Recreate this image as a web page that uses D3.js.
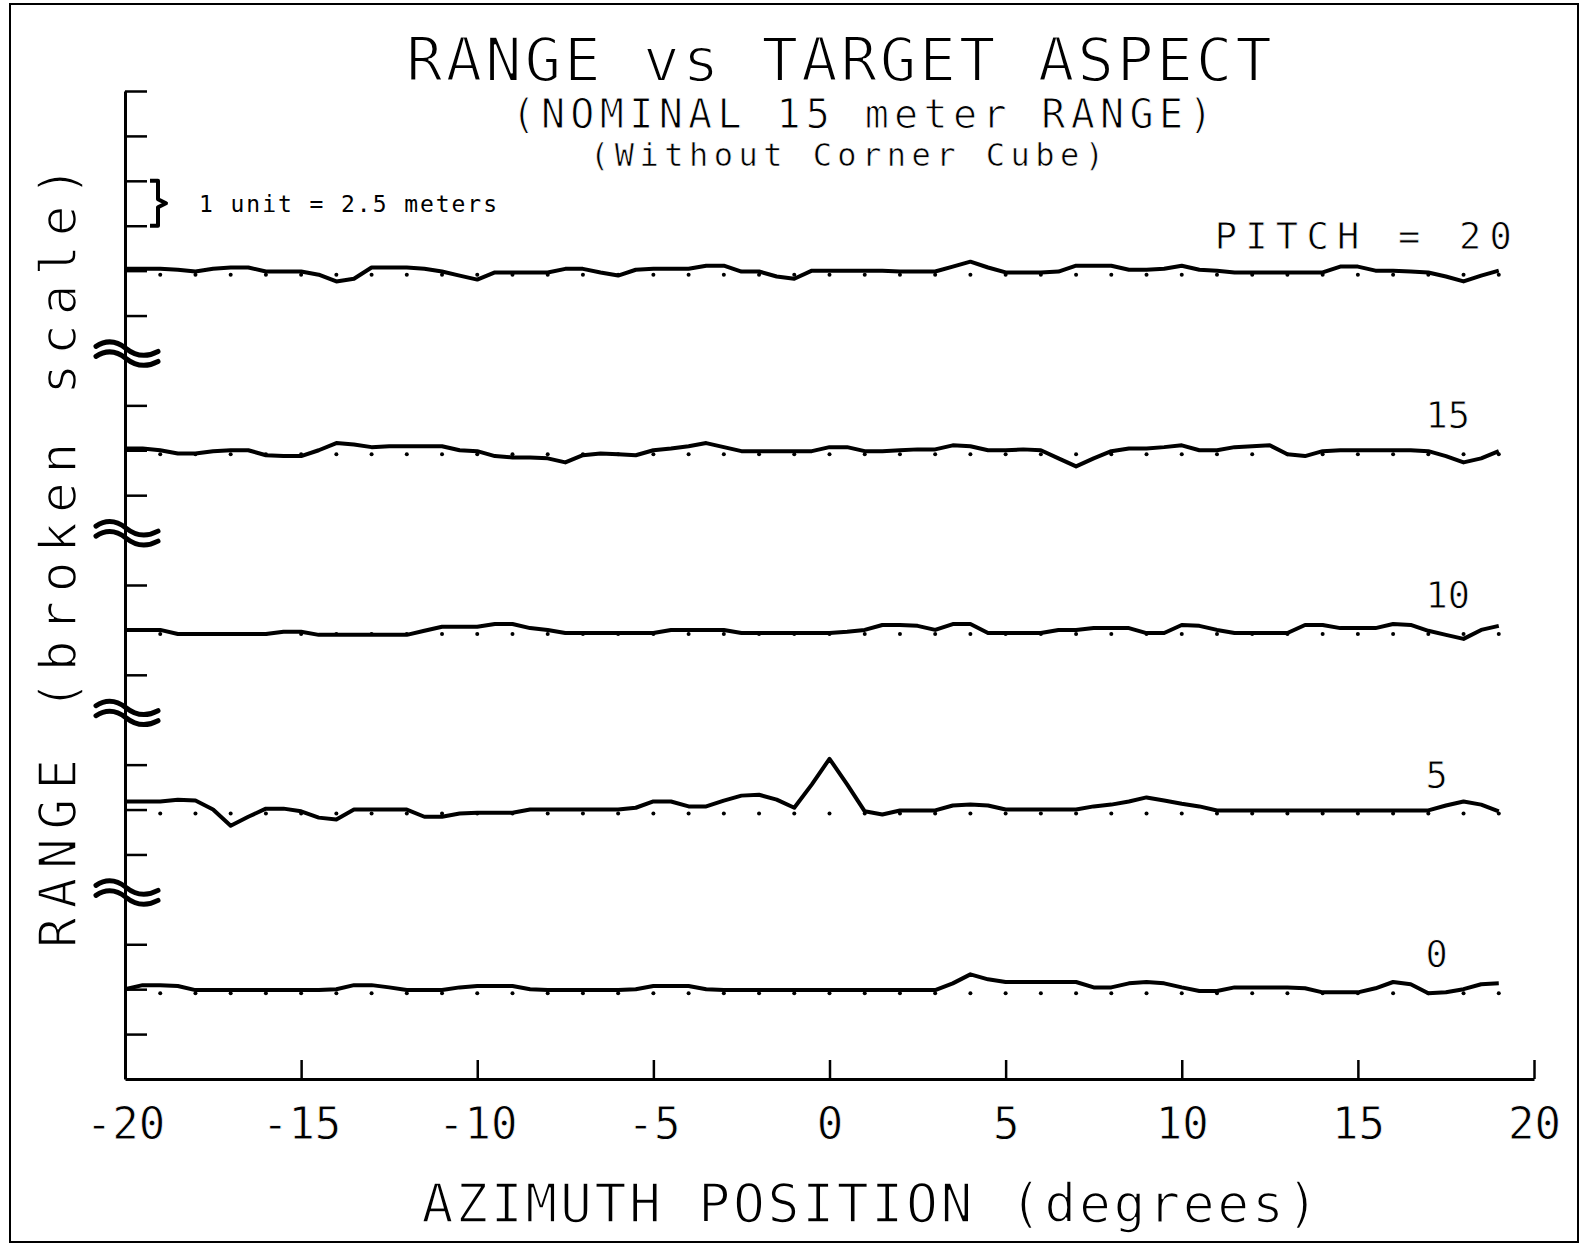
<!DOCTYPE html>
<html><head><meta charset="utf-8">
<script src="https://cdn.jsdelivr.net/npm/d3@7"></script>
<style>
html,body{margin:0;padding:0;background:#fff;}
svg{display:block;}
.plotter{font-family:"DejaVu Sans Mono",monospace;fill:#000;stroke:#fff;}
.typed{font-family:"DejaVu Sans Mono",monospace;fill:#000;}
</style></head>
<body>
<svg id="chart" width="1581" height="1249"></svg>
<script>
// ---- data (range deviation from each pitch's nominal line, in plot units; 1 unit = 2.5 m) ----
const azimuth = [-20,-19.5,-19,-18.5,-18,-17.5,-17,-16.5,-16,-15.5,-15,-14.5,-14,-13.5,-13,-12.5,-12,-11.5,-11,-10.5,
  -10,-9.5,-9,-8.5,-8,-7.5,-7,-6.5,-6,-5.5,-5,-4.5,-4,-3.5,-3,-2.5,-2,-1.5,-1,-0.5,
  0,0.5,1,1.5,2,2.5,3,3.5,4,4.5,5,5.5,6,6.5,7,7.5,8,8.5,9,9.5,
  10,10.5,11,11.5,12,12.5,13,13.5,14,14.5,15,15.5,16,16.5,17,17.5,18,18.5,19];

const pitch20 = [0.04,0.04,0.04,0.02,-0.02,0.04,0.07,0.07,-0.02,-0.02,
  -0.02,-0.09,-0.24,-0.18,0.07,0.07,0.07,0.04,-0.02,-0.11,
  -0.20,-0.04,-0.04,-0.04,-0.04,0.04,0.04,-0.04,-0.11,0.02,
  0.04,0.04,0.04,0.11,0.11,-0.02,-0.02,-0.13,-0.18,0,
  0,0,0,0,-0.02,-0.02,-0.02,0.09,0.20,0.07,
  -0.04,-0.04,-0.04,-0.02,0.11,0.11,0.11,0.02,0.02,0.04,
  0.11,0.02,0,-0.04,-0.04,-0.04,-0.04,-0.04,-0.04,0.09,
  0.09,0,0,-0.02,-0.04,-0.13,-0.24,-0.11,0];

const pitch15 = [0.04,0.04,0,-0.07,-0.07,-0.02,0,0,-0.11,-0.13,
  -0.13,0,0.16,0.13,0.07,0.09,0.09,0.09,0.09,0,
  -0.02,-0.13,-0.16,-0.16,-0.18,-0.27,-0.11,-0.07,-0.09,-0.11,
  0,0.04,0.09,0.16,0.07,-0.02,-0.02,-0.02,-0.02,-0.02,
  0.07,0.07,-0.02,-0.02,0,0.02,0.02,0.11,0.09,0,
  0,0.02,0,-0.18,-0.36,-0.18,-0.02,0.04,0.04,0.07,
  0.11,0,0,0.07,0.09,0.11,-0.09,-0.13,-0.02,0,
  0,0,0,0,-0.02,-0.13,-0.27,-0.18,-0.02];

const pitch10 = [0,0,0,-0.09,-0.09,-0.09,-0.09,-0.09,-0.09,-0.04,
  -0.04,-0.11,-0.11,-0.11,-0.11,-0.11,-0.11,-0.02,0.07,0.07,
  0.07,0.13,0.13,0.04,0,-0.07,-0.07,-0.07,-0.07,-0.07,
  -0.07,0,0,0,0,-0.07,-0.07,-0.07,-0.07,-0.07,
  -0.07,-0.04,0,0.11,0.11,0.09,0,0.13,0.13,-0.07,
  -0.07,-0.07,-0.07,0,0,0.04,0.04,0.04,-0.07,-0.07,
  0.11,0.09,0,-0.07,-0.07,-0.07,-0.07,0.11,0.11,0.04,
  0.04,0.04,0.13,0.11,-0.02,-0.11,-0.20,0,0.09];

const pitch5 = [0.18,0.18,0.18,0.22,0.20,0,-0.36,-0.16,0.02,0.02,
  -0.04,-0.18,-0.22,0,0,0,0,-0.16,-0.16,-0.09,
  -0.07,-0.07,-0.07,0,0,0,0,0,0,0.04,
  0.18,0.18,0.07,0.07,0.20,0.31,0.33,0.22,0.04,0.56,
  1.13,0.56,-0.04,-0.11,-0.02,-0.02,-0.02,0.09,0.11,0.09,
  0,0,0,0,0,0.07,0.11,0.18,0.27,0.20,
  0.13,0.07,-0.02,-0.02,-0.02,-0.02,-0.02,-0.02,-0.02,-0.02,
  -0.02,-0.02,-0.02,-0.02,-0.02,0.09,0.18,0.11,-0.04];

const pitch0 = [0,0.09,0.09,0.07,-0.02,-0.02,-0.02,-0.02,-0.02,-0.02,
  -0.02,-0.02,0,0.09,0.09,0.04,-0.02,-0.02,-0.02,0.04,
  0.07,0.07,0.07,0,-0.02,-0.02,-0.02,-0.02,-0.02,0,
  0.07,0.07,0.07,0,-0.02,-0.02,-0.02,-0.02,-0.02,-0.02,
  -0.02,-0.02,-0.02,-0.02,-0.02,-0.02,-0.02,0.13,0.33,0.22,
  0.16,0.16,0.16,0.16,0.16,0.04,0.04,0.13,0.16,0.13,
  0.04,-0.04,-0.04,0.04,0.04,0.04,0.04,0.02,-0.07,-0.07,
  -0.07,0.02,0.16,0.11,-0.09,-0.07,0,0.11,0.13];

const pitchLabels = ["PITCH = 20", "15", "10", "5", "0"];
const pitchBaselines = [18, 14, 10, 6, 2];          // nominal line of each pitch on the broken scale (units)
const pitchSeries = [pitch20, pitch15, pitch10, pitch5, pitch0];
const sampleMarks = [-19,-18,-17,-16,-15,-14,-13,-12,-11,-10,-9,-8,-7,-6,-5,-4,-3,-2,-1,
  0,1,2,3,4,5,6,7,8,9,10,11,12,13,14,15,16,17,18,19];

const xTicks = [-20,-15,-10,-5,0,5,10,15,20];
const xTickLabels = ["-20","-15","-10","-5","0","5","10","15","20"];
const yTicks = [1,2,3,5,6,7,9,10,11,13,14,15,17,18,19,20,21,22];
const yBreaks = [4,8,12,16];
const unitBracket = [19,20];

const titleText = "RANGE vs TARGET ASPECT";
const subtitleText = "(NOMINAL 15 meter RANGE)";
const subtitle2Text = "(Without Corner Cube)";
const unitNote = "1 unit = 2.5 meters";
const xTitle = "AZIMUTH POSITION (degrees)";
const yTitle = "RANGE (broken scale)";

// ---- drawing ----
const svg = d3.select("#chart");
svg.append("rect").attr("width",1581).attr("height",1249).attr("fill","#fff");

// outer frame
svg.append("rect").attr("x",10).attr("y",4).attr("width",1568).attr("height",1238)
  .attr("fill","none").attr("stroke","#000").attr("stroke-width",2);

const x = d3.scaleLinear().domain([-20,20]).range([125,1534]);
const y = d3.scaleLinear().domain([0,22]).range([1079,91]);

// x axis
const xAxis = d3.axisBottom(x).tickValues(xTicks)
  .tickFormat((d,i) => xTickLabels[i]).tickSizeInner(-19).tickSizeOuter(0).tickPadding(29);
const gx = svg.append("g").attr("transform",`translate(0,${y(0)})`).call(xAxis);
gx.select(".domain").attr("stroke","#000").attr("stroke-width",3);
gx.selectAll(".tick line").attr("stroke","#000").attr("stroke-width",2.5);
gx.selectAll(".tick text").attr("class","plotter").attr("font-size",44)
  .attr("stroke-width",0.8).attr("fill","#000");

// y axis
const yAxis = d3.axisLeft(y).tickValues(yTicks).tickFormat("").tickSizeInner(-22).tickSizeOuter(0);
const gy = svg.append("g").attr("transform",`translate(${x(-20)},0)`).call(yAxis);
gy.select(".domain").attr("stroke","#000").attr("stroke-width",3);
gy.selectAll(".tick line").attr("stroke","#000").attr("stroke-width",2.5);

// axis breaks
const brk = svg.append("g");
yBreaks.forEach(b => {
  const cy = y(b) - 7, ax = x(-20);
  [-5, 5].forEach(o => {
    brk.append("path")
      .attr("d", `M${ax-29},${cy+o-2} Q${ax-14},${cy+o-12} ${ax+1},${cy+o} T${ax+33},${cy+o+3}`)
      .attr("fill","none").attr("stroke","#000").attr("stroke-width",5).attr("stroke-linecap","round");
  });
});

// unit bracket
{
  const yt = y(unitBracket[1]), yb = y(unitBracket[0]), ym = (yt+yb)/2, bx = x(-20) + 33;
  svg.append("path")
    .attr("d", `M${bx-8},${yt} L${bx},${yt} L${bx},${ym-4} L${bx+8},${ym} L${bx},${ym+4} L${bx},${yb} L${bx-8},${yb}`)
    .attr("fill","none").attr("stroke","#000").attr("stroke-width",4).attr("stroke-linejoin","round");
  svg.append("text").attr("class","typed").attr("x",bx+41).attr("y",ym+9)
    .attr("font-size",23).attr("textLength",298).attr("lengthAdjust","spacing").text(unitNote);
}

// series
const line = d3.line().x(d => x(d[0])).y(d => y(d[1])).curve(d3.curveLinear);
pitchSeries.forEach((vals, i) => {
  const base = pitchBaselines[i];
  const n = Math.min(vals.length, azimuth.length);
  const pts = d3.range(n).map(k => [azimuth[k], base + vals[k]]);
  svg.append("g").selectAll("circle").data(sampleMarks).join("circle")
    .attr("cx", d => x(d)).attr("cy", y(base) + 4).attr("r", 2).attr("fill","#000");
  svg.append("path").attr("d", line(pts)).attr("fill","none").attr("stroke","#000")
    .attr("stroke-width",4).attr("stroke-linejoin","round");
  const lbl = svg.append("text").attr("class","plotter").attr("y", y(base) - 22).text(pitchLabels[i]);
  if (i === 0) {
    lbl.attr("x", x(19.37)).attr("text-anchor","end").attr("font-size",37)
      .attr("textLength",297).attr("lengthAdjust","spacing").attr("stroke-width",0.8);
  } else {
    lbl.attr("x", x(16.92)).attr("font-size",37).attr("stroke-width",0.8);
  }
});

// titles
svg.append("text").attr("class","plotter").attr("x",839).attr("y",81).attr("text-anchor","middle")
  .attr("font-size",61).attr("textLength",866).attr("lengthAdjust","spacing")
  .attr("stroke-width",2).text(titleText);
svg.append("text").attr("class","plotter").attr("x",862).attr("y",128).attr("text-anchor","middle")
  .attr("font-size",40).attr("textLength",701).attr("lengthAdjust","spacing")
  .attr("stroke-width",1).text(subtitleText);
svg.append("text").attr("class","plotter").attr("x",847).attr("y",166).attr("text-anchor","middle")
  .attr("font-size",32).attr("textLength",514).attr("lengthAdjust","spacing")
  .attr("stroke-width",0.6).text(subtitle2Text);
svg.append("text").attr("class","plotter").attr("x",870).attr("y",1222).attr("text-anchor","middle")
  .attr("font-size",53).attr("textLength",897).attr("lengthAdjust","spacing")
  .attr("stroke-width",1.6).text(xTitle);
svg.append("text").attr("class","plotter").attr("transform","translate(76,557) rotate(-90)")
  .attr("text-anchor","middle").attr("font-size",51).attr("textLength",782).attr("lengthAdjust","spacing")
  .attr("stroke-width",1.5).text(yTitle);
</script>
</body></html>
